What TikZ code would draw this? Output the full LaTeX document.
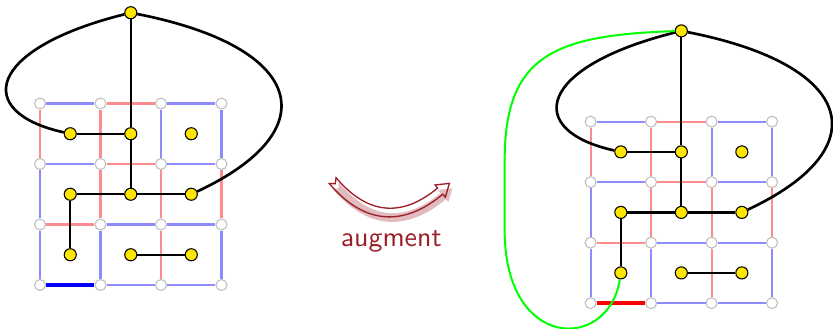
\documentclass[tikz,border=0pt]{standalone}
\usepackage{xcolor}
\definecolor{augred}{RGB}{155,30,40}
\definecolor{dotyellow}{RGB}{255,230,0}

\begin{document}
\begin{tikzpicture}[x=0.8cm, y=0.8cm,
  vert/.style={circle, draw=gray!50, fill=white, line width=0.4pt, inner sep=0pt, minimum size=0.145cm},
  facedot/.style={circle, draw=black, fill=dotyellow, line width=0.4pt, inner sep=0pt, minimum size=0.16cm},
  bedge/.style={blue!45, line width=0.8pt},
  redge/.style={red!45, line width=0.8pt},
  dual/.style={black, line width=0.85pt},
  dualarc/.style={black, line width=1pt},
  augpath/.style={green, line width=0.75pt}]
  \useasboundingbox (-0.6612,-0.7107) rectangle (13.107,4.7107);
  \foreach \g/\dx/\dy/\bc in {l/0/0/blue, r/9.1/-0.3/red} {
    \begin{scope}[shift={(\dx,\dy)}, cutedge/.style={\bc, line width=1.5pt}]
      % primal grid
      \foreach \i in {0,...,3} \foreach \j in {0,...,3}
        \node[vert] (\g v\i\j) at (\i,\j) {};
      \foreach \a/\b/\s in {03/13/bedge, 13/23/redge, 23/33/bedge,
                            02/12/bedge, 12/22/redge, 22/32/bedge,
                            01/11/redge, 11/21/bedge, 21/31/bedge,
                            00/10/cutedge, 10/20/bedge, 20/30/bedge,
                            00/01/bedge, 01/02/bedge, 02/03/redge,
                            10/11/bedge, 11/12/redge, 12/13/redge,
                            20/21/redge, 21/22/redge, 22/23/bedge,
                            30/31/bedge, 31/32/redge, 32/33/bedge}
        \draw[\s] (\g v\a) -- (\g v\b);
      % dual tree
      \foreach \i in {0,1,2} \foreach \j in {0,1,2}
        \node[facedot] (\g f\i\j) at (\i+0.5,\j+0.5) {};
      \node[facedot] (\g t) at (1.5,4.5) {};
      \foreach \a/\b in {t/f12, f02/f12, f12/f11, f01/f11, f11/f21, f01/f00, f10/f20}
        \draw[dual] (\g\a) -- (\g\b);
      \draw[dualarc] (\g t) .. controls +(-2.4,-0.6) and +(-1.6,0.35) .. (\g f02);
      \draw[dualarc] (\g t) .. controls +(2.9,-0.57) and +(2.25,1.05) .. (\g f21);
    \end{scope}
  }
  % augmenting edge
  \begin{scope}[shift={(9.1,-0.3)}]
    \draw[augpath] (rt) .. controls (-0.6,4.43) and (-1.42,4.1) .. (-1.42,2.36)
      -- (-1.42,1.2) .. controls (-1.42,-0.8) and (0.3,-0.8) .. (rf00);
  \end{scope}
  % arrow
  \begin{scope}[shift={(-0.6612,4.7107)}, x=0.013223cm, y=-0.013223cm]
    \fill[augred!30, shift={(3,5)}] (335.1,183.6) -- (335.9,177.6)
      .. controls (368.1,215.9) and (402.9,216.8) .. (437.4,187.9)
      -- (434.9,184.9) -- (449.2,183.3) -- (445.1,197.1) -- (442.6,194.1)
      .. controls (404.3,226.3) and (364.5,225.5) .. (329.1,183.4) -- cycle;
    \draw[augred, line width=0.5pt] (335.1,183.6) -- (335.9,177.6)
      .. controls (368.1,215.9) and (402.9,216.8) .. (437.4,187.9)
      -- (434.9,184.9) -- (449.2,183.3) -- (445.1,197.1) -- (442.6,194.1)
      .. controls (404.3,226.3) and (364.5,225.5) .. (329.1,183.4) -- cycle;
    \node[font=\sffamily\fontsize{10.5}{12}\selectfont, text=augred, anchor=base] (auglabel) at (391,246) {augment};
  \end{scope}
\end{tikzpicture}
\end{document}
